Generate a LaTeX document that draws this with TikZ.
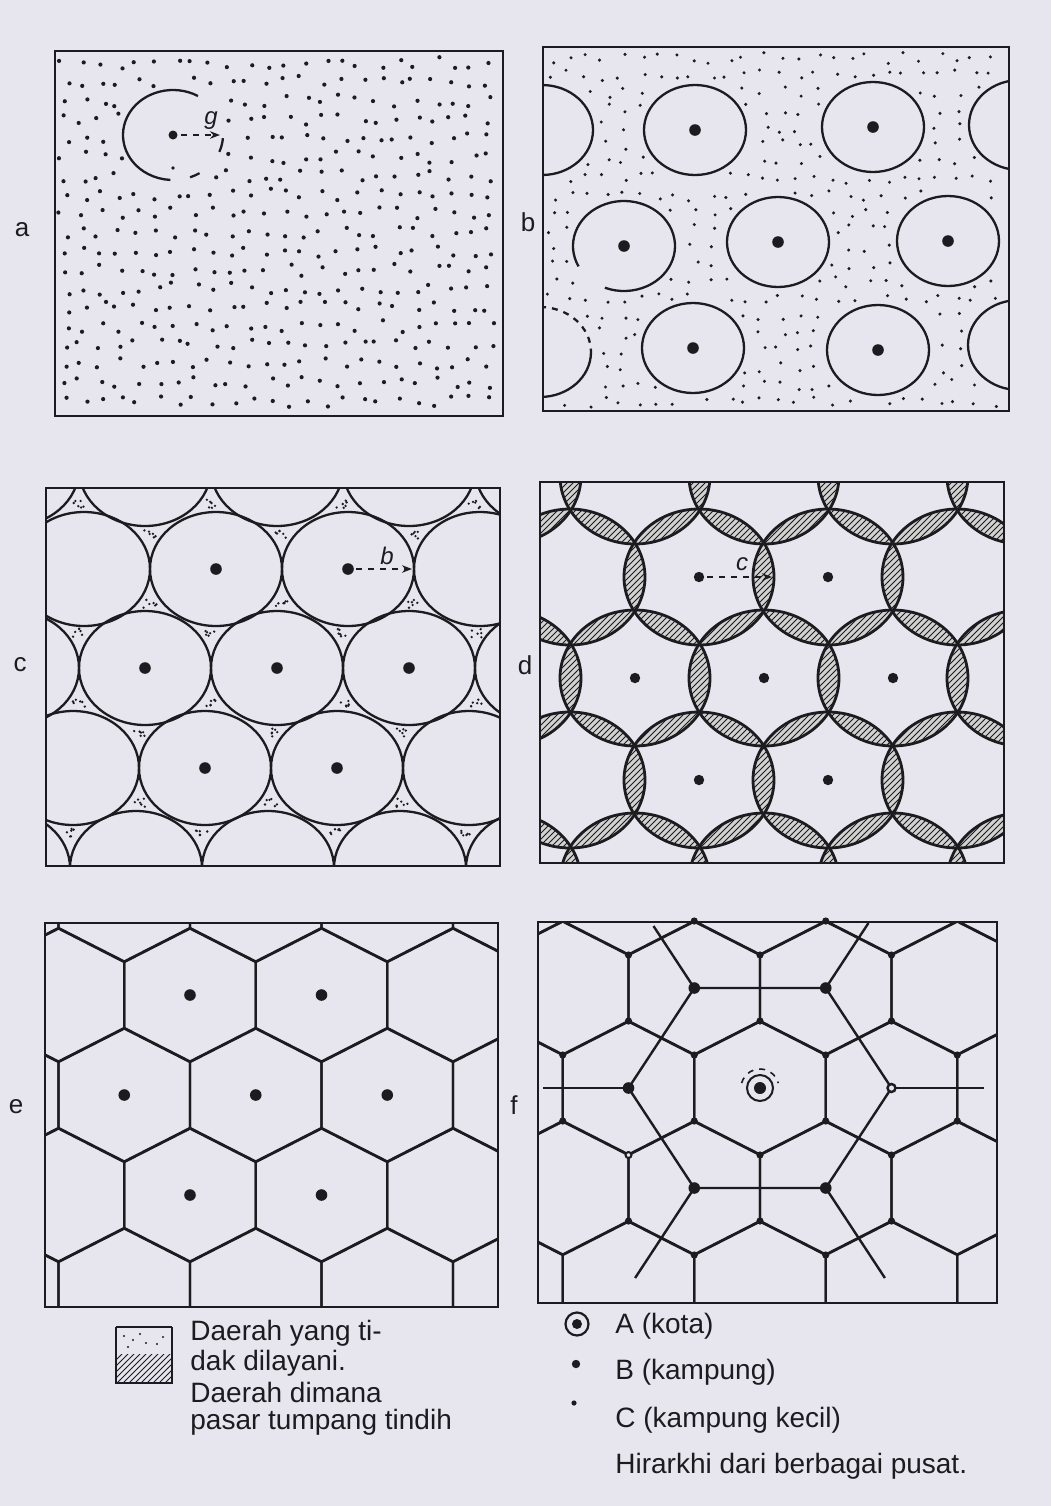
\documentclass[tikz,border=0pt]{standalone}
\usepackage{fontspec}
\setmainfont{Liberation Sans}
\usetikzlibrary{patterns,arrows.meta,calc}
\definecolor{paper}{RGB}{231,229,237}
\definecolor{ink}{RGB}{28,28,32}
\newcommand\hexcell[2]{\draw[hexline] (#1,#2-67) -- (#1+65.75,#2-33.5) -- (#1+65.75,#2+33.5) -- (#1,#2+67) -- (#1-65.75,#2+33.5) -- (#1-65.75,#2-33.5) -- cycle;}
\begin{document}
\begin{tikzpicture}[x=0.5pt,y=-0.5pt,
  panelframe/.style={draw=ink,line width=1.4pt},
  ringline/.style={draw=ink,line width=1.15pt},
  dring/.style={draw=ink,line width=1.4pt},
  hexline/.style={draw=ink,line width=1.2pt,line join=round},
  lbl/.style={text=ink,font=\fontsize{13}{15}\selectfont,inner sep=0pt},
  legtext/.style={text=ink,font=\fontsize{14}{16}\selectfont,anchor=base west,inner sep=0pt},
  mlbl/.style={text=ink,font=\fontsize{12}{14}\selectfont\itshape,inner sep=0pt},
  radarrow/.style={draw=ink,line width=0.8pt,dashed,-{Stealth[length=5pt]}}]
\useasboundingbox (0,0) rectangle (1051,1506);
\fill[paper] (0,0) rectangle (1051,1506);

% ---------------- panel a ----------------
\pgfmathsetseed{3}
\foreach \i in {0,...,23}{
 \foreach \j in {0,...,18}{
  \pgfmathsetmacro\px{64+\i*18.5+12*(rnd-0.5)}
  \pgfmathsetmacro\py{63+\j*18.8+12*(rnd-0.5)}
  \pgfmathtruncatemacro\ok{((\px-173)/56)^2+((\py-135)/51)^2>1 ? 1 : 0}
  \ifnum\ok=1 \fill[ink] (\px,\py) circle[radius=2.1]; \fi
 }
}
\fill[ink] (173,168) circle[radius=1.8];
\draw[panelframe] (55,51) rectangle (503,416);
\draw[ringline] (173,135) ++(300:50 and 45) arc[start angle=300,end angle=93,x radius=50,y radius=45];
\draw[ringline] (173,135) ++(4:50 and 45) arc[start angle=4,end angle=22,x radius=50,y radius=45];
\draw[ringline] (173,135) ++(58:50 and 45) arc[start angle=58,end angle=70,x radius=50,y radius=45];
\fill[ink] (173,135) circle[radius=4.5];
\draw[radarrow] (181,135) -- (220,135);
\node[mlbl] (lg) at (211,121) {g};
\node[lbl] (la) at (22,230) {a};

% ---------------- panel b ----------------
\def\bcircles{695/130,873/127,624/246,778/242,948/241,693/348,878/350,542/130,540/352,1020/125,1019/345}
\pgfmathsetseed{11}
\foreach \i in {0,...,25}{
 \foreach \j in {0,...,20}{
  \pgfmathsetmacro\px{552+\i*17.6+11*(rnd-0.5)}
  \pgfmathsetmacro\py{58+\j*17.2+11*(rnd-0.5)}
  \gdef\okflag{1}
  \foreach \cx/\cy in \bcircles{
    \pgfmathtruncatemacro\inside{((\px-\cx)/58)^2+((\py-\cy)/51)^2<1 ? 1 : 0}
    \ifnum\inside=1 \gdef\okflag{0}\fi
  }
  \ifnum\okflag=1 \fill[ink] (\px,\py) circle[radius=1.7]; \fi
 }
}
\begin{scope}
\clip (543,47) rectangle (1009,411);
\foreach \cx/\cy in {695/130,873/127,778/242,948/241,693/348,878/350,542/130,1020/125,1019/345}
  {\draw[ringline] (\cx,\cy) ellipse[x radius=51,y radius=45];}
\draw[ringline] (624,246) ++(153:51 and 45) arc[start angle=153,end angle=472,x radius=51,y radius=45];
\draw[ringline] (540,352) ++(0:51 and 45) arc[start angle=0,end angle=90,x radius=51,y radius=45];
\draw[ringline,dashed] (540,352) ++(270:51 and 45) arc[start angle=270,end angle=360,x radius=51,y radius=45];
\end{scope}
\foreach \cx/\cy in {695/130,873/127,624/246,778/242,948/241,693/348,878/350}
  {\fill[ink] (\cx,\cy) circle[radius=5.8];}
\draw[panelframe] (543,47) rectangle (1009,411);
\node[lbl] (lb) at (528,222) {b};

% ---------------- panel c ----------------
\begin{scope}
\clip (46,488) rectangle (500,866);
\pgfmathsetseed{21}
\foreach \gy/\xs in {504/{79,211,343,475},534/{18,150,282,414},604/{18,150,282,414},633/{79,211,343,475},703/{79,211,343,475},733/{7,139,271,403},803/{7,139,271,403},833/{70,202,334,466}}{
  \foreach \gx in \xs {
    \foreach \k in {1,...,6}{
      \pgfmathsetmacro\px{\gx+13*(rnd-0.5)}
      \pgfmathsetmacro\py{\gy+9*(rnd-0.5)}
      \fill[ink] (\px,\py) circle[radius=1.3];
    }
  }
}
\foreach \cy/\xs in {469/{13,145,277,409,541},569/{-48,84,216,348,480},668/{13,145,277,409,541},768/{-59,73,205,337,469},868/{4,136,268,400,532}}{
  \foreach \cx in \xs {\draw[ringline] (\cx,\cy) ellipse[x radius=66,y radius=57];}
}
\end{scope}
\foreach \cx/\cy in {216/569,348/569,145/668,277/668,409/668,205/768,337/768}
  {\fill[ink] (\cx,\cy) circle[radius=5.8];}
\draw[radarrow] (356,569) -- (412,569);
\node[mlbl] (lbb) at (387,556) {b};
\draw[panelframe] (46,488) rectangle (500,866);
\node[lbl] (lc) at (20,665) {c};

% ---------------- panel d ----------------
\def\dlist{506/476,635/476,764/476,893/476,1022/476,570/577,699/577,828/577,957/577,506/678,635/678,764/678,893/678,1022/678,570/780,699/780,828/780,957/780,506/881,635/881,764/881,893/881,1022/881}
\begin{scope}
\clip (540,482) rectangle (1004,863);
\foreach \ax/\ay [count=\i] in \dlist {
  \begin{scope}
   \clip (\ax,\ay) ellipse[x radius=75,y radius=68];
   \foreach \bx/\by [count=\j] in \dlist {
     \pgfmathtruncatemacro\near{(abs(\ax-\bx)<140)&&(abs(\ay-\by)<110)&&(\i!=\j) ? 1 : 0}
     \ifnum\near=1
       \fill[ink!20] (\bx,\by) ellipse[x radius=75,y radius=68];
       \fill[pattern=north east lines,pattern color=ink] (\bx,\by) ellipse[x radius=75,y radius=68];
     \fi
   }
  \end{scope}
}
\foreach \ax/\ay in \dlist {\draw[dring] (\ax,\ay) ellipse[x radius=75,y radius=68];}
\end{scope}
\foreach \cx/\cy in {699/577,828/577,635/678,764/678,893/678,699/780,828/780}
  {\fill[ink] (\cx,\cy) circle[radius=5.2];}
\draw[radarrow] (707,577) -- (772,577);
\node[mlbl] (lcc) at (742,564) {c};
\draw[panelframe] (540,482) rectangle (1004,863);
\node[lbl] (ld) at (525,665) {d};

% ---------------- panel e ----------------
\begin{scope}
\clip (45,923) rectangle (498,1307);
\foreach \cy/\xs in {895/{-7.25,124.25,255.75,387.25,518.75},995/{58.5,190,321.5,453},1095/{-7.25,124.25,255.75,387.25,518.75},1195/{58.5,190,321.5,453},1295/{-7.25,124.25,255.75,387.25,518.75}}{
  \foreach \cx in \xs {\hexcell{\cx}{\cy}}
}
\end{scope}
\foreach \cx/\cy in {190/995,321.5/995,124.25/1095,255.75/1095,387.25/1095,190/1195,321.5/1195}
  {\fill[ink] (\cx,\cy) circle[radius=5.8];}
\draw[panelframe] (45,923) rectangle (498,1307);
\node[lbl] (le) at (16,1107) {e};

% ---------------- panel f ----------------
\coordinate (A) at (760,1088);
\coordinate (n1) at (694.25,988);
\coordinate (n2) at (825.75,988);
\coordinate (n3) at (891.5,1088);
\coordinate (n4) at (825.75,1188);
\coordinate (n5) at (694.25,1188);
\coordinate (n6) at (628.5,1088);
\begin{scope}
\clip (538,922) rectangle (997,1303);
\foreach \cy/\xs in {888/{497,628.5,760,891.5,1023},988/{562.75,694.25,825.75,957.25},1088/{497,628.5,760,891.5,1023},1188/{562.75,694.25,825.75,957.25},1288/{497,628.5,760,891.5,1023}}{
  \foreach \cx in \xs {\hexcell{\cx}{\cy}}
}
\draw[hexline] (n1) -- (n2) -- (n3) -- (n4) -- (n5) -- (n6) -- cycle;
\draw[hexline] (n1) -- ($(A)!1.62!(n1)$);
\draw[hexline] (n2) -- ($(A)!1.65!(n2)$);
\draw[hexline] (n3) -- ($(A)!1.7!(n3)$);
\draw[hexline] (n4) -- ($(A)!1.9!(n4)$);
\draw[hexline] (n5) -- ($(A)!1.9!(n5)$);
\draw[hexline] (n6) -- ($(A)!1.65!(n6)$);
\end{scope}
\foreach \cx/\cy in {694.25/921,825.75/921,628.5/955,760/955,891.5/955,628.5/1021,760/1021,891.5/1021,562.75/1055,694.25/1055,825.75/1055,957.25/1055,562.75/1121,694.25/1121,825.75/1121,957.25/1121,760/1155,891.5/1155,628.5/1221,760/1221,891.5/1221,694.25/1255,825.75/1255}
  {\fill[ink] (\cx,\cy) circle[radius=3.6];}
\filldraw[fill=paper,draw=ink,line width=1pt] (628.5,1155) circle[radius=3];
\foreach \n in {n1,n2,n4,n5,n6} {\fill[ink] (\n) circle[radius=5.8];}
\filldraw[fill=paper,draw=ink,line width=1.2pt] (n3) circle[radius=4];
\fill[ink] (A) circle[radius=6];
\draw[ink,line width=1pt] (A) circle[radius=13];
\draw[ink,line width=0.8pt,dashed] (A) ++(195:19) arc[start angle=195,end angle=345,radius=19];
\draw[panelframe] (538,922) rectangle (997,1303);
\node[lbl] (lf) at (514,1105) {f};

% ---------------- legend ----------------
\fill[pattern=north east lines,pattern color=ink] (116,1354) rectangle (172,1383);
\foreach \dx/\dy in {124/1336,133/1340,146/1343,128/1347,157/1344,163/1337,140/1334}
  {\fill[ink] (\dx,\dy) circle[radius=1.1];}
\draw[ink,line width=0.6pt] (116,1327) -- (172,1327);
\draw[ink,line width=1.4pt] (116,1327) -- (116,1383) -- (172,1383) -- (172,1327);
\node[legtext] (t1) at (190,1340) {Daerah yang ti-};
\node[legtext] (t2) at (190,1370) {dak dilayani.};
\node[legtext] (t3) at (190,1402) {Daerah dimana};
\node[legtext] (t4) at (190,1429) {pasar tumpang tindih};
\fill[ink] (577,1324) circle[radius=5];
\draw[ink,line width=1.1pt] (577,1324) circle[radius=11.5];
\fill[ink] (576,1364) circle[radius=4.2];
\fill[ink] (574,1403) circle[radius=2.6];
\node[legtext] (tA) at (615,1333) {A (kota)};
\node[legtext] (tB) at (615,1379) {B (kampung)};
\node[legtext] (tC) at (615,1427) {C (kampung kecil)};
\node[legtext] (tH) at (615,1473) {Hirarkhi dari berbagai pusat.};
\end{tikzpicture}
\end{document}
